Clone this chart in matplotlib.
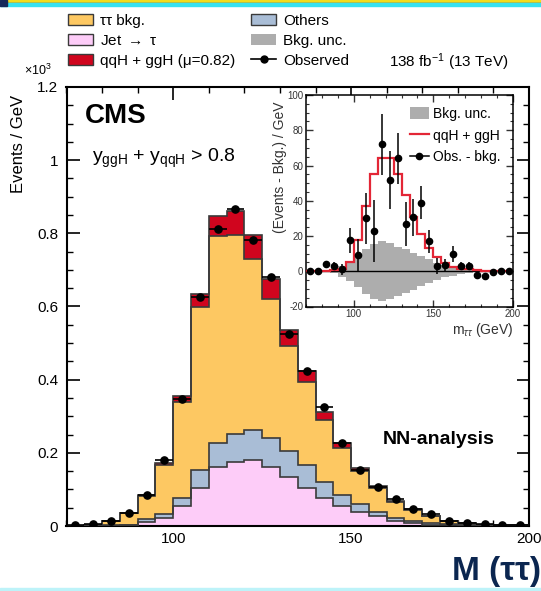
import matplotlib
matplotlib.use("Agg")
import matplotlib.pyplot as plt
import matplotlib.patches as mpatches
from matplotlib.lines import Line2D
from matplotlib.ticker import MultipleLocator, FuncFormatter
import numpy as np

plt.rcParams["font.family"] = ["Liberation Sans", "DejaVu Sans"]
plt.rcParams["mathtext.fontset"] = "custom"
plt.rcParams["mathtext.rm"] = "Liberation Sans"
plt.rcParams["mathtext.it"] = "Liberation Sans:italic"
plt.rcParams["mathtext.bf"] = "Liberation Sans:bold"
plt.rcParams["axes.unicode_minus"] = False

# m_tautau binning, 5 GeV bins from 70 to 200
edges = np.arange(70, 205, 5)

# stacked components, events / GeV
jetfakes = [0, 0.5, 1, 2, 11, 23, 54, 105, 162, 175, 181, 162, 134, 104, 76, 55,
            37, 27, 14, 8, 4, 3, 2, 1, 1, 0.5]
others = [0, 0.5, 1, 2, 9, 10, 23, 48, 65, 76, 82, 78, 70, 62, 43, 30,
          24, 12, 9, 6, 4, 2, 1, 1, 0, 0.5]
ztt = [1, 2, 12, 32, 63, 135, 261, 445, 565, 545, 468, 381, 289, 227, 171, 128,
       90, 65, 43, 31, 18, 9, 4, 2, 2, 1]
signal = [0, 0, 0, 0.5, 1, 5, 18, 37, 55, 64, 64, 55, 43, 31, 21, 13,
          8, 4.5, 2.5, 1.5, 1, 0.5, 0.3, 0, 0, 0]
observed = [2, 5, 14, 36, 84, 180, 347, 627, 813, 867, 781, 682, 526, 423, 326, 226,
            153, 107, 75, 47, 32, 13, 8, 5, 4, 2]

# background subtracted view
obs_minus_bkg = [0, 0, 4, 3, 1, 17.5, 9, 30, 23, 72, 52, 64, 27, 30.5, 39, 17,
                 3, 3.5, 10, 3, 3, -2.3, -2.5, -0.6, 0.3, 0.3]
diff_err = [0.5, 0.7, 1.5, 2, 3, 7, 9.5, 14.5, 17.5, 17.5, 16.5, 14.5, 12.5, 10.5, 9.5, 6.5,
            4.5, 3.5, 4.5, 2.5, 2, 1.5, 1.5, 1, 0.7, 0.5]
bkg_unc = [0.3, 0.3, 0.5, 1, 3, 5.7, 9, 12.8, 15.6, 17.1, 15.8, 13.9, 12.4, 10.5, 8.6, 6.7,
           4.8, 3.4, 2.5, 1.5, 1, 0.6, 0.4, 0.3, 0.2, 0.2]

c_tt = "#fdc862"
c_jet = "#fdccf8"
c_oth = "#a9bdd6"
c_sig = "#d0051e"
c_unc = "#adadad"
c_edge = "#3a3a3a"
c_sigline = "#e32636"

W, H = 541, 591
fig = plt.figure(figsize=(W / 100, H / 100), dpi=100)


def fx(px):
    return px / W


def fy(py):
    return 1 - py / H


centers = 0.5 * (edges[:-1] + edges[1:])

# ---- main stacked histogram
ax = fig.add_axes([fx(66.5), fy(526), fx(529 - 66.5), (526 - 87) / H])
bottom = np.zeros(len(centers))
for vals, col in [(jetfakes, c_jet), (others, c_oth), (ztt, c_tt), (signal, c_sig)]:
    top = bottom + np.array(vals)
    ax.stairs(top / 1000, edges, baseline=bottom / 1000, fill=True, color=col, zorder=2)
    ax.stairs(top / 1000, edges, baseline=None, color=c_edge, lw=1.2, zorder=3)
    bottom = top

ax.errorbar(centers, np.array(observed) / 1000, xerr=2.5, fmt="o", color="black",
            ms=5.2, elinewidth=1.2, capsize=0, zorder=5)

ax.set_xlim(70, 200)
ax.set_ylim(0, 1.2)
ax.xaxis.set_major_locator(MultipleLocator(50))
ax.xaxis.set_minor_locator(MultipleLocator(10))
ax.yaxis.set_major_locator(MultipleLocator(0.2))
ax.yaxis.set_minor_locator(MultipleLocator(0.05))
ax.yaxis.set_major_formatter(FuncFormatter(lambda v, p: "%g" % v))
ax.tick_params(which="both", direction="in", top=True, right=True, labelsize=11)
ax.tick_params(which="major", length=9, width=1.2)
ax.tick_params(which="minor", length=4.5, width=1.0)
ax.tick_params(axis="y", pad=6)
ax.tick_params(axis="x", pad=4)
for s in ax.spines.values():
    s.set_linewidth(1.5)

fig.text(fx(18.5), fy(144), "Events / GeV", rotation=90, ha="center", va="center", fontsize=12)
fig.text(fx(24), fy(70), r"$\times$10$^{3}$", ha="left", va="center", fontsize=9)
fig.text(fx(85), fy(116), "CMS", fontsize=20, fontweight="bold", ha="left", va="center")
fig.text(fx(92), fy(162), r"y$_{\rm ggH}$ + y$_{\rm qqH}$ > 0.8", fontsize=14, ha="left", va="baseline")
fig.text(fx(383), fy(440), "NN-analysis", fontsize=14, fontweight="bold", ha="left", va="center")
fig.text(fx(509), fy(62), r"138 fb$^{-1}$ (13 TeV)", fontsize=11, ha="right", va="center")

# legend above the frame, two columns
h_tt = mpatches.Patch(facecolor=c_tt, edgecolor=c_edge, lw=1)
h_jet = mpatches.Patch(facecolor=c_jet, edgecolor=c_edge, lw=1)
h_sig = mpatches.Patch(facecolor=c_sig, edgecolor=c_edge, lw=1)
h_oth = mpatches.Patch(facecolor=c_oth, edgecolor=c_edge, lw=1)
h_unc = mpatches.Patch(facecolor=c_unc, edgecolor="none")
h_obs = Line2D([], [], color="black", lw=1.2, marker="o", ms=5)
leg_kw = dict(frameon=False, fontsize=11, borderpad=0, borderaxespad=0, handlelength=1.65,
              handleheight=0.72, handletextpad=0.45, labelspacing=0.38, loc="upper left")
fig.legend([h_tt, h_jet, h_sig],
           [u"\u03c4\u03c4 bkg.", r"Jet $\rightarrow$ " + u"\u03c4", u"qqH + ggH (\u03bc=0.82)"],
           bbox_to_anchor=(fx(68), fy(14)), **leg_kw)
fig.legend([h_oth, h_unc, h_obs], ["Others", "Bkg. unc.", "Observed"],
           bbox_to_anchor=(fx(251), fy(14)), **leg_kw)

# ---- inset: observed minus background
ai = fig.add_axes([fx(306), fy(306.5), fx(513 - 306), (306.5 - 95) / H], zorder=10)
ai.set_facecolor("white")
ai.stairs(bkg_unc, edges, baseline=-np.array(bkg_unc), fill=True, color=c_unc, lw=0, zorder=1)
ai.axhline(0, color="black", lw=1.0, zorder=2)
ai.stairs(signal, edges, baseline=None, color=c_sigline, lw=1.6, zorder=3)
ai.errorbar(centers, obs_minus_bkg, yerr=diff_err, fmt="o", color="black", ms=4.5,
            elinewidth=1.1, capsize=0, zorder=4)
ai.set_xlim(70, 200)
ai.set_ylim(-20, 100)
ai.xaxis.set_major_locator(MultipleLocator(50))
ai.xaxis.set_minor_locator(MultipleLocator(10))
ai.yaxis.set_major_locator(MultipleLocator(20))
ai.yaxis.set_minor_locator(MultipleLocator(5))
ai.yaxis.set_major_formatter(FuncFormatter(lambda v, p: "%g" % v))
ai.tick_params(which="both", direction="in", top=True, right=True, labelsize=7, colors="#333333")
ai.tick_params(which="major", length=5, width=1.0, pad=2)
ai.tick_params(which="minor", length=2.5, width=0.8)
for s in ai.spines.values():
    s.set_linewidth(1.1)
ai.text(-(306 - 280) / 207, (306.5 - 167) / 211.5, "(Events - Bkg.) / GeV", rotation=90,
        transform=ai.transAxes, ha="center", va="center", fontsize=10, color="#333333")
ai.text(1.0, -(330 - 306.5) / 211.5, r"m$_{\tau\tau}$ (GeV)", transform=ai.transAxes,
        ha="right", va="center", fontsize=10, color="#333333")
h_sigline = Line2D([], [], color=c_sigline, lw=1.6)
h_dif = Line2D([], [], color="black", lw=1.1, marker="o", ms=4.5)
ai.legend([h_unc, h_sigline, h_dif], ["Bkg. unc.", "qqH + ggH", "Obs. - bkg."], frameon=False,
          fontsize=10, loc="upper left", bbox_to_anchor=((410 - 306) / 207, (306.5 - 107) / 211.5),
          borderpad=0, borderaxespad=0, handlelength=1.35, handleheight=0.9,
          handletextpad=0.3, labelspacing=0.55)

# ---- slide decorations
fig.patches.append(mpatches.Rectangle((0, fy(2.7)), 1, 2.7 / H, transform=fig.transFigure,
                                      color="#f2dc1e", zorder=0))
fig.patches.append(mpatches.Rectangle((0, fy(3.5)), 1, 0.8 / H, transform=fig.transFigure,
                                      color="#1d2f66", zorder=0))
fig.patches.append(mpatches.Rectangle((0, fy(5.5)), 1, 2.0 / H, transform=fig.transFigure,
                                      color="#36e2f2", zorder=0))
fig.patches.append(mpatches.Rectangle((0, fy(6)), fx(7), 6 / H, transform=fig.transFigure,
                                      color="#16285a", zorder=1))
fig.patches.append(mpatches.Rectangle((0, 0), 1, 3 / H, transform=fig.transFigure,
                                      color="#bdf3f9", zorder=0))
fig.text(fx(541), fy(580), u"M (\u03c4\u03c4)", fontsize=24, fontweight="bold", color="#0b2650",
         ha="right", va="baseline")

fig.savefig("out.png", dpi=100)
